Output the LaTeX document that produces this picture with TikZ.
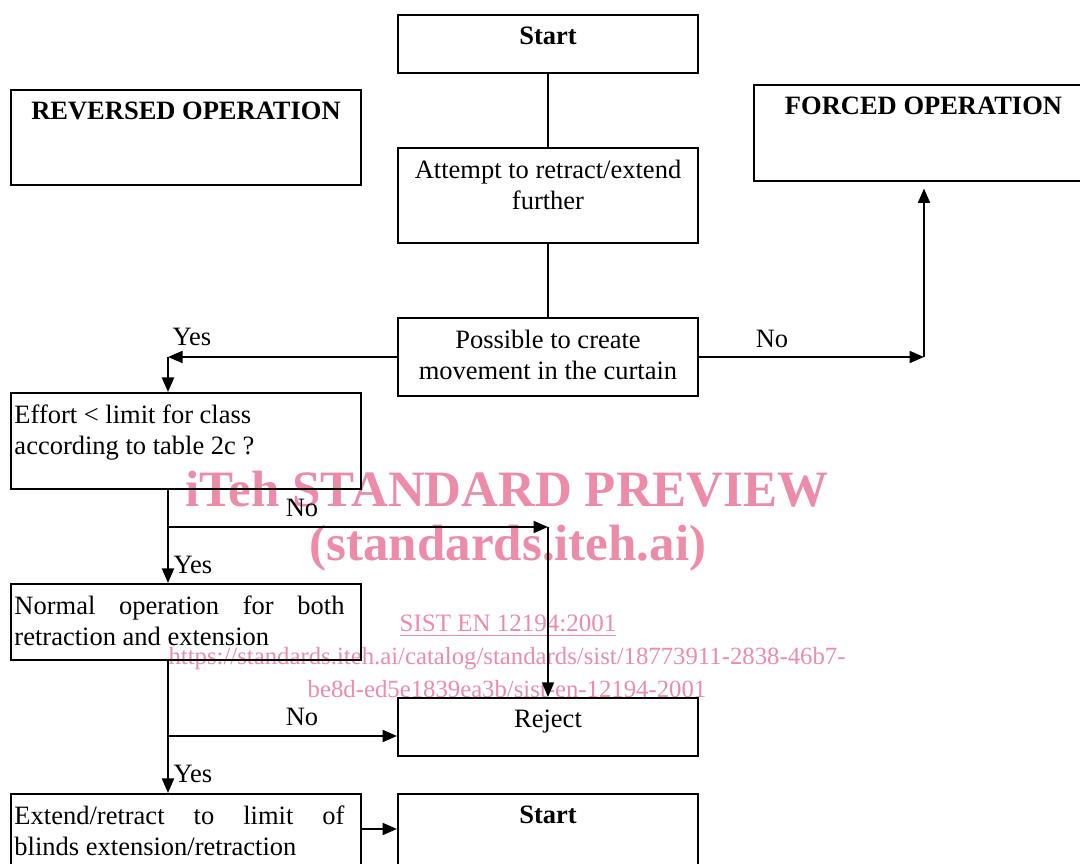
\documentclass[tikz,border=0pt]{standalone}
\usepackage{fontspec}
\setmainfont{Liberation Serif}
\usepackage{tikz}
\usetikzlibrary{arrows.meta,positioning}
\definecolor{wmpink}{RGB}{236,140,168}
\tikzset{
  stepbox/.style={draw=black, line width=0.8pt, inner sep=0pt},
  mainbox/.style={stepbox, minimum width=120pt},
  sidebox/.style={stepbox, minimum width=140pt},
  boxtext/.style={inner xsep=1.6pt, inner ysep=5pt, align=center,
    font=\fontsize{10.6}{12.4}\selectfont},
  boxjust/.style={boxtext, text width=132pt, align=justify},
  answer/.style={inner sep=0pt, font=\fontsize{10.6}{12.4}\selectfont},
  flow/.style={-{Triangle[length=5.8pt,width=4.8pt]}, line width=0.8pt},
  link/.style={line width=0.8pt},
  wmark/.style={text=wmpink, inner sep=0pt}
}
\begin{document}
\begin{tikzpicture}[x=0.4pt, y=-0.4pt, node distance=0pt]
\path[use as bounding box, clip] (0,0) rectangle (1080,864);

\node[wmark, font=\bfseries\fontsize{20.4}{24}\selectfont] (wm1) at (507,489) {iTeh STANDARD PREVIEW};
\node[wmark, font=\bfseries\fontsize{20.4}{24}\selectfont] (wm2) at (508,548) {(standards.iteh.ai)};
\node[wmark, font=\fontsize{10}{12}\selectfont] (wm3) at (508,626) {\underline{SIST EN 12194:2001}};
\node[wmark, font=\fontsize{9.9}{12}\selectfont] (wm4) at (507,659) {https://standards.iteh.ai/catalog/standards/sist/18773911-2838-46b7-};
\node[wmark, font=\fontsize{9.9}{12}\selectfont] (wm5) at (507,689) {be8d-ed5e1839ea3b/sist-en-12194-2001};

\node[mainbox, minimum height=23.2pt] (start) at (548,44) {};
\node[boxtext, below=of start.north] (start-t) {\textbf{Start}};
\node[mainbox, minimum height=38pt] (attempt) at (548,195.5) {};
\node[boxtext, below=of attempt.north] (attempt-t) {Attempt to retract/extend\\further};
\node[mainbox, minimum height=31.2pt] (possible) at (548,357) {};
\node[boxtext, below=of possible.north] (possible-t) {Possible to create\\movement in the curtain};
\node[mainbox, minimum height=23.2pt] (reject) at (548,727) {};
\node[boxtext, below=of reject.north] (reject-t) {Reject};
\node[mainbox, minimum height=38.4pt] (start2) at (548,842) {};
\node[boxtext, below=of start2.north] (start2-t) {\textbf{Start}};

\node[sidebox, minimum height=38pt] (reversed) at (186,137.5) {};
\node[boxtext, below=of reversed.north] (reversed-t) {\textbf{REVERSED OPERATION}};
\node[stepbox, minimum width=135.6pt, minimum height=38.4pt] (forced) at (923.5,133) {};
\node[boxtext, below=of forced.north] (forced-t) {\textbf{FORCED OPERATION}};

\node[sidebox, minimum height=38.4pt] (effort) at (186,441) {};
\node[boxtext, align=left, below right=of effort.north west] (effort-t) {Effort {<} limit for class\\according to table 2c ?};
\node[sidebox, minimum height=30.4pt] (normal) at (186,622) {};
\node[boxjust, below right=of normal.north west] (normal-t) {Normal operation for both\linebreak retraction and extension};
\node[sidebox, minimum height=38.4pt] (extend) at (186,842) {};
\node[boxjust, below right=of extend.north west] (extend-t) {Extend/retract to limit of\linebreak blinds extension/retraction};

\coordinate (yes1) at (168,357);
\coordinate (no1) at (924,357);
\coordinate (no2) at (168,527);
\coordinate (no3) at (168,736);
\coordinate (go) at (0,829);

\draw[link] (start) -- (attempt);
\draw[link] (attempt) -- (possible);
\draw[flow] (possible.west) -- (yes1);
\draw[flow] (yes1) -- (yes1 |- effort.north);
\draw[flow] (possible.east) -- (no1);
\draw[flow, shorten >=2.6pt] (no1) -- (no1 |- forced.south);
\draw[flow] (yes1 |- effort.south) -- (yes1 |- normal.north);
\draw[flow] (no2) -- (reject.north |- no2);
\draw[flow, line width=0.5pt] (reject.north |- no2) -- (reject.north);
\draw[flow] (yes1 |- normal.south) -- (yes1 |- extend.north);
\draw[flow] (no3) -- (no3 -| reject.west);
\draw[flow] (extend.east |- go) -- (start2.west |- go);

\node[answer] (yes1-l) at (192,337) {Yes};
\node[answer] (no1-l) at (772,339) {No};
\node[answer] (no2-l) at (302,508) {No};
\node[answer] (yes2-l) at (193,565) {Yes};
\node[answer] (no3-l) at (302,717) {No};
\node[answer] (yes3-l) at (193,774) {Yes};
\end{tikzpicture}
\end{document}
